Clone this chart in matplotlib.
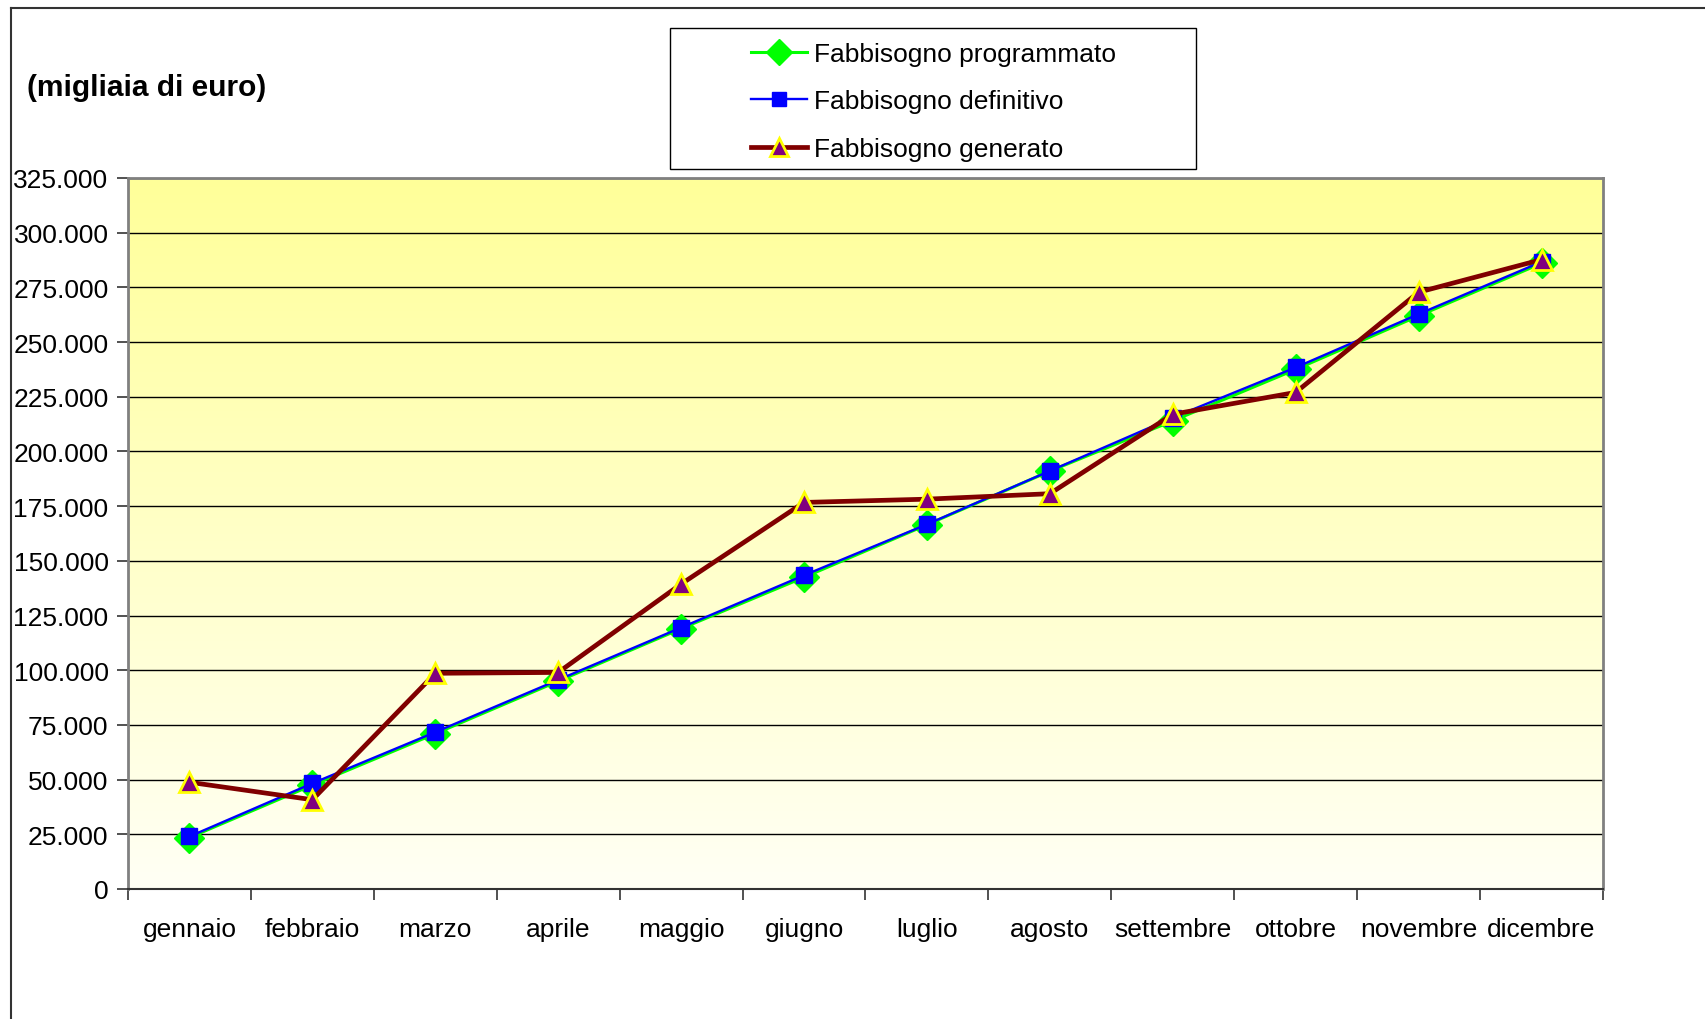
import matplotlib
matplotlib.use("Agg")
import matplotlib.pyplot as plt
import numpy as np
from matplotlib.lines import Line2D
from matplotlib.patches import Rectangle

plt.rcParams['font.family'] = ['Liberation Sans', 'DejaVu Sans']

# months and the three series (migliaia di euro)
mesi = ['gennaio', 'febbraio', 'marzo', 'aprile', 'maggio', 'giugno',
        'luglio', 'agosto', 'settembre', 'ottobre', 'novembre', 'dicembre']
programmato = [23500, 47500, 71000, 95000, 119000, 142500,
               166500, 191000, 214000, 237500, 262000, 286000]
definitivo = [24000, 48300, 71700, 95600, 119500, 143400,
              166700, 191100, 215500, 238400, 262800, 286700]
generato = [48800, 40800, 98600, 99000, 139400, 176700,
            178200, 180700, 217000, 227000, 272800, 287700]
yticks = list(range(0, 325001, 25000))

fig = plt.figure(figsize=(17.06, 10.20), dpi=100)
ax = fig.add_axes([128 / 1706, 1 - 890 / 1020, 1475 / 1706, 711 / 1020])

# yellow gradient plot area
grad = np.linspace(0, 1, 256).reshape(-1, 1)
top = np.array([255, 255, 153]) / 255
bot = np.array([255, 255, 245]) / 255
img = bot + (top - bot) * grad[..., None]
ax.imshow(img, extent=[0, 1, 0, 1], transform=ax.transAxes,
          aspect='auto', origin='lower', zorder=0)

x = np.arange(len(mesi))
ax.plot(x, programmato, color='#00FF00', lw=2.2, marker='D', ms=15,
        mfc='#00FF00', mec='#00FF00', label='Fabbisogno programmato', zorder=3)
ax.plot(x, definitivo, color='#0000FF', lw=1.7, marker='s', ms=11,
        mfc='#0000FF', mec='#0000FF', label='Fabbisogno definitivo', zorder=4)
ax.plot(x, generato, color='#800000', lw=3.4, marker='^', ms=14,
        mfc='#800080', mec='#FFFF00', mew=2, label='Fabbisogno generato', zorder=5)

ax.set_xlim(-0.5, 11.5)
ax.set_ylim(0, 325000)
ax.set_yticks(yticks)
ax.set_yticklabels([f"{v:,}".replace(',', '.') for v in yticks], fontsize=19)
ax.yaxis.grid(True, color='black', lw=1)
ax.set_axisbelow(True)
for gl in ax.get_ygridlines():
    gl.set_zorder(1)

ax.set_xticks(x)
ax.set_xticklabels(mesi, fontsize=19)
ax.set_xticks(np.arange(-0.5, 12, 1), minor=True)
ax.tick_params(axis='x', which='major', length=0, pad=20)
ax.tick_params(axis='x', which='minor', length=8, width=1.2, color='#333333')
ax.tick_params(axis='y', length=8, width=1.2, color='#333333', pad=6)

for s in ['left', 'right', 'top']:
    ax.spines[s].set_color('#808080')
    ax.spines[s].set_linewidth(2)
ax.spines['bottom'].set_color('#333333')
ax.spines['bottom'].set_linewidth(1.5)

fig.text(27 / 1706, 1 - 88 / 1020, '(migliaia di euro)', fontsize=21.5,
         fontweight='bold', va='center', ha='left')

# legend box
fig.add_artist(Rectangle((670 / 1706, 1 - 170 / 1020), 526 / 1706, 141 / 1020,
                         transform=fig.transFigure, fill=False,
                         edgecolor='black', lw=1))
leg = fig.legend(loc='upper left', bbox_to_anchor=(727 / 1706, 1 - 19 / 1020),
                 frameon=False, fontsize=19, handlelength=2.15,
                 handletextpad=0.25, labelspacing=0.9, markerscale=0.9)

# outer chart border (cut off on right and bottom)
fig.add_artist(Line2D([11 / 1706, 11 / 1706], [0, 1 - 9 / 1020],
                      transform=fig.transFigure, color='#333333', lw=1.5))
fig.add_artist(Line2D([11 / 1706, 1], [1 - 9 / 1020, 1 - 9 / 1020],
                      transform=fig.transFigure, color='#333333', lw=1.5))

fig.savefig('out.png', dpi=100)
